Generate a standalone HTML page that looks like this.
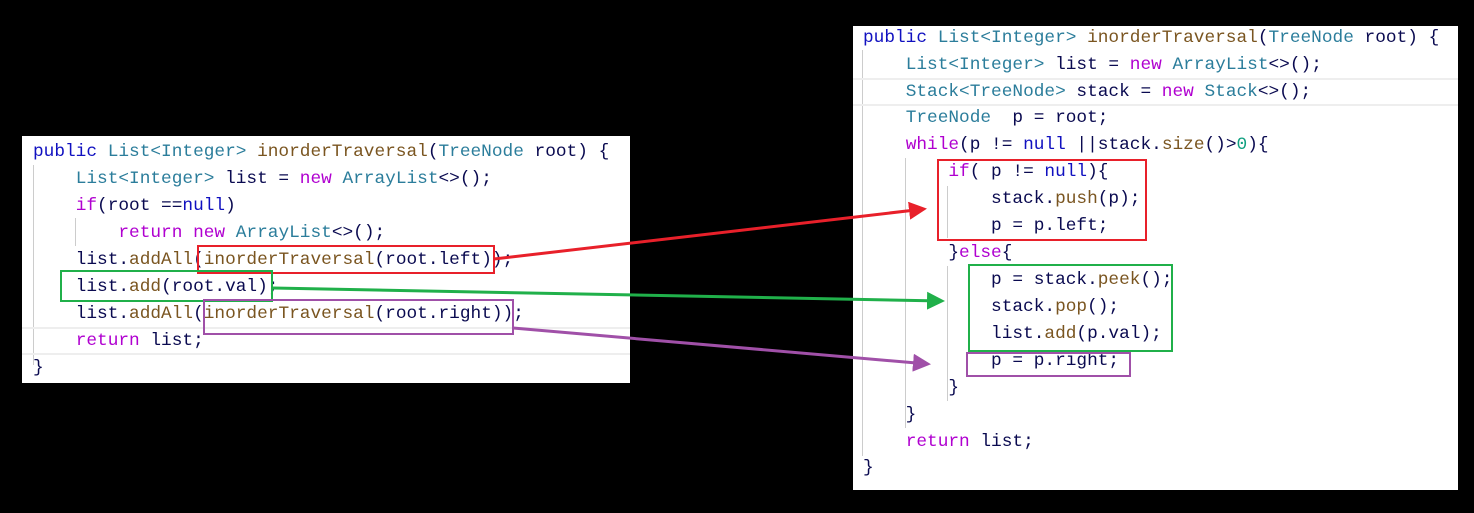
<!DOCTYPE html>
<html><head><meta charset="utf-8"><style>
body{margin:0;width:1474px;height:513px;background:#000;position:relative;overflow:hidden}
.p{position:absolute;background:#fff}
.l{position:absolute;font:17.8px/20px "Liberation Mono",monospace;white-space:pre;color:#0a0a50}
.k{color:#b000d0}.b{color:#1010c0}.t{color:#2b7d9b}.m{color:#7a5520}.n{color:#10a080}
.box{position:absolute;border:2px solid}
.g{position:absolute;width:1px;background:#ccc}
</style></head><body>
<div class="p" style="left:22px;top:136px;width:608px;height:247px"></div>
<div class="p" style="left:853px;top:26px;width:605px;height:464px"></div>
<div class="g" style="left:33px;top:165px;height:200px"></div>
<div class="g" style="left:75px;top:218px;height:28px"></div>
<div class="g" style="left:862px;top:50px;height:406px"></div>
<div class="g" style="left:905px;top:158px;height:270px"></div>
<div class="g" style="left:947px;top:186px;height:52px"></div>
<div class="g" style="left:947px;top:266px;height:135px"></div>
<div style="position:absolute;left:853px;top:78px;width:605px;height:2px;background:#eee"></div>
<div style="position:absolute;left:853px;top:104px;width:605px;height:2px;background:#eee"></div>
<div style="position:absolute;left:22px;top:327px;width:608px;height:2px;background:#eee"></div>
<div style="position:absolute;left:22px;top:353px;width:608px;height:2px;background:#eee"></div>

<div class="l" style="left:33px;top:142px"><span class="b">public</span> <span class="t">List&lt;Integer&gt;</span> <span class="m">inorderTraversal</span>(<span class="t">TreeNode</span> root) {</div>
<div class="l" style="left:33px;top:169px">    <span class="t">List&lt;Integer&gt;</span> list = <span class="k">new</span> <span class="t">ArrayList</span>&lt;&gt;();</div>
<div class="l" style="left:33px;top:196px">    <span class="k">if</span>(root ==<span class="b">null</span>)</div>
<div class="l" style="left:33px;top:223px">        <span class="k">return</span> <span class="k">new</span> <span class="t">ArrayList</span>&lt;&gt;();</div>
<div class="l" style="left:33px;top:250px">    list.<span class="m">addAll</span>(<span class="m">inorderTraversal</span>(root.left));</div>
<div class="l" style="left:33px;top:277px">    list.<span class="m">add</span>(root.val);</div>
<div class="l" style="left:33px;top:304px">    list.<span class="m">addAll</span>(<span class="m">inorderTraversal</span>(root.right));</div>
<div class="l" style="left:33px;top:331px">    <span class="k">return</span> list;</div>
<div class="l" style="left:33px;top:358px">}</div>

<div class="l" style="left:863px;top:28px"><span class="b">public</span> <span class="t">List&lt;Integer&gt;</span> <span class="m">inorderTraversal</span>(<span class="t">TreeNode</span> root) {</div>
<div class="l" style="left:863px;top:55px">    <span class="t">List&lt;Integer&gt;</span> list = <span class="k">new</span> <span class="t">ArrayList</span>&lt;&gt;();</div>
<div class="l" style="left:863px;top:82px">    <span class="t">Stack&lt;TreeNode&gt;</span> stack = <span class="k">new</span> <span class="t">Stack</span>&lt;&gt;();</div>
<div class="l" style="left:863px;top:108px">    <span class="t">TreeNode</span>  p = root;</div>
<div class="l" style="left:863px;top:135px">    <span class="k">while</span>(p != <span class="b">null</span> ||stack.<span class="m">size</span>()&gt;<span class="n">0</span>){</div>
<div class="l" style="left:863px;top:162px">        <span class="k">if</span>( p != <span class="b">null</span>){</div>
<div class="l" style="left:863px;top:189px">            stack.<span class="m">push</span>(p);</div>
<div class="l" style="left:863px;top:216px">            p = p.left;</div>
<div class="l" style="left:863px;top:243px">        }<span class="k">else</span>{</div>
<div class="l" style="left:863px;top:270px">            p = stack.<span class="m">peek</span>();</div>
<div class="l" style="left:863px;top:297px">            stack.<span class="m">pop</span>();</div>
<div class="l" style="left:863px;top:324px">            list.<span class="m">add</span>(p.val);</div>
<div class="l" style="left:863px;top:351px">            p = p.right;</div>
<div class="l" style="left:863px;top:378px">        }</div>
<div class="l" style="left:863px;top:405px">    }</div>
<div class="l" style="left:863px;top:432px">    <span class="k">return</span> list;</div>
<div class="l" style="left:863px;top:458px">}</div>

<div class="box" style="border-color:#e8202a;left:197px;top:245px;width:294px;height:25px"></div>
<div class="box" style="border-color:#20b04a;left:60px;top:270px;width:209px;height:28px"></div>
<div class="box" style="border-color:#a050a8;left:203px;top:299px;width:307px;height:32px"></div>
<div class="box" style="border-color:#e8202a;left:937px;top:159px;width:206px;height:78px"></div>
<div class="box" style="border-color:#20b04a;left:968px;top:264px;width:201px;height:84px"></div>
<div class="box" style="border-color:#a050a8;left:966px;top:352px;width:161px;height:21px"></div>

<svg width="1474" height="513" style="position:absolute;left:0;top:0">
<defs>
<marker id="ar" markerWidth="6" markerHeight="6" refX="5" refY="3" orient="auto" markerUnits="strokeWidth"><path d="M0,0L6,3L0,6z" fill="#e8202a"/></marker>
<marker id="ag" markerWidth="6" markerHeight="6" refX="5" refY="3" orient="auto" markerUnits="strokeWidth"><path d="M0,0L6,3L0,6z" fill="#20b04a"/></marker>
<marker id="ap" markerWidth="6" markerHeight="6" refX="5" refY="3" orient="auto" markerUnits="strokeWidth"><path d="M0,0L6,3L0,6z" fill="#a050a8"/></marker>
</defs>
<line x1="494" y1="259" x2="924" y2="209" stroke="#e8202a" stroke-width="3" marker-end="url(#ar)"/>
<line x1="273" y1="288" x2="942" y2="301" stroke="#20b04a" stroke-width="3" marker-end="url(#ag)"/>
<line x1="513" y1="328" x2="928" y2="364" stroke="#a050a8" stroke-width="3" marker-end="url(#ap)"/>
</svg>
</body></html>
